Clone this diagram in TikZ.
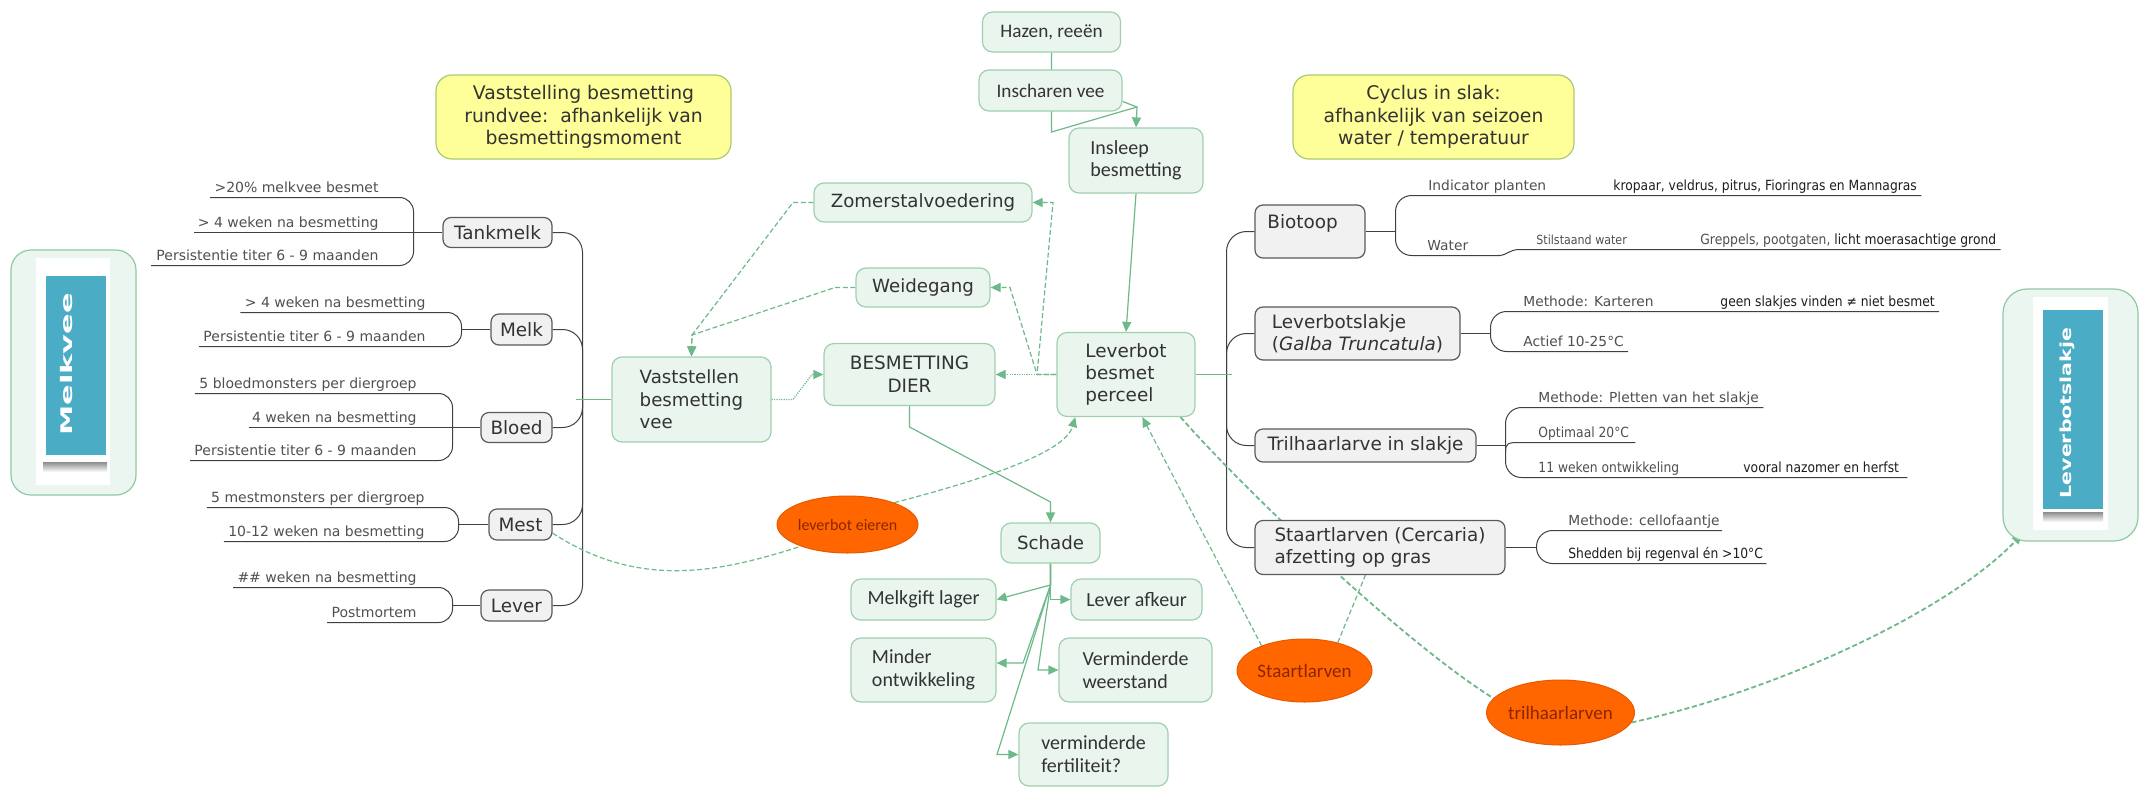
\documentclass[tikz,border=0pt]{standalone}
\usepackage{graphicx}
\usepackage{fontspec}
\setmainfont{DejaVu Sans}
\newfontfamily\carlitofont{Carlito}
\newfontfamily\nrwfont[FakeStretch=0.88]{DejaVu Sans}
\usetikzlibrary{arrows.meta,shapes.geometric,backgrounds,calc}
\definecolor{gfill}{HTML}{EAF5EE}
\definecolor{gborder}{HTML}{9ED0AE}
\definecolor{glinec}{HTML}{6DB98A}
\definecolor{grayfill}{HTML}{F1F1F1}
\definecolor{grayborder}{HTML}{5A5A5A}
\definecolor{dlinec}{HTML}{404040}
\definecolor{txt}{HTML}{333333}
\definecolor{leaftxt}{HTML}{505050}
\definecolor{leafdark}{HTML}{1E1E1E}
\definecolor{orng}{HTML}{FF6600}
\definecolor{orngdark}{HTML}{E55A00}
\definecolor{orngtxt}{HTML}{8B2500}
\definecolor{ylw}{HTML}{FFFF99}
\definecolor{ylwborder}{HTML}{A9CB72}
\definecolor{blu}{HTML}{4BACC6}
\definecolor{mvfill}{HTML}{ECF6F0}
\definecolor{mvborder}{HTML}{8FC9A3}
\tikzset{
  gbox/.style={draw=gborder, fill=gfill, line width=0.6pt, rounded corners=5pt, inner sep=0pt, text=txt, align=center},
  vfont/.style={font=\fontsize{9.1}{11.2}\selectfont},
  cfont/.style={font=\carlitofont\fontsize{10}{11.4}\selectfont},
  graybox/.style={draw=grayborder, fill=grayfill, line width=0.6pt, rounded corners=4pt, inner sep=0pt, text=txt, align=center, font=\fontsize{9.2}{11}\selectfont},
  ybox/.style={draw=ylwborder, fill=ylw, line width=0.6pt, rounded corners=8pt, inner sep=0pt, text=txt, align=center, font=\fontsize{9.4}{11.2}\selectfont},
  oval/.style={ellipse, draw=orngdark, fill=orng, line width=0.5pt, inner sep=0pt, text=orngtxt},
  leafL/.style={inner sep=0pt, text=leaftxt, font=\fontsize{7}{8}\selectfont, anchor=base east},
  leafR/.style={inner sep=0pt, text=leaftxt, font=\fontsize{6.9}{8}\selectfont, anchor=base west},
  leafN/.style={inner sep=0pt, text=leaftxt, font=\nrwfont\fontsize{7}{8}\selectfont, anchor=base west},
  leafD/.style={inner sep=0pt, text=leafdark, font=\nrwfont\fontsize{7}{8}\selectfont, anchor=base west},
  dl/.style={draw=dlinec, line width=0.5pt},
  gl/.style={draw=glinec, line width=0.6pt},
  gdash/.style={draw=glinec, line width=0.6pt, dash pattern=on 2.5pt off 1.3pt},
  gdot/.style={draw=glinec, line width=0.6pt, dash pattern=on 0.6pt off 0.6pt},
  gthick/.style={draw=glinec, line width=0.9pt, dash pattern=on 2.5pt off 1.4pt},
  tip/.style={-{Triangle[width=4.5pt,length=5pt]}},
}
\begin{document}
\begin{tikzpicture}[x=0.5pt, y=-0.5pt]
\useasboundingbox (0,0) rectangle (2150,787);

% ---------- Melkvee panel
\node[draw=mvborder, fill=mvfill, rounded corners=10pt, line width=0.6pt, minimum width=62.5pt, minimum height=122.5pt, inner sep=0pt] (mv) at (73.5,372.5) {};
\node[fill=white, minimum width=37pt, minimum height=113.5pt, inner sep=0pt] (mvcard) at (73,371.5) {};
\node[top color=black!45, bottom color=white, minimum width=32pt, minimum height=5pt, inner sep=0pt] (mvshadow) at (75,467) {};
\node[fill=blu, minimum width=30pt, minimum height=89.5pt, inner sep=0pt] (mvblue) at (76,365.5) {};
\node[rotate=90, text=white, inner sep=0pt] (mvtext) at (67,364.5) {\scalebox{1.9}[1]{\fontsize{8}{8}\selectfont\bfseries Melkvee}};

% ---------- Leverbotslakje panel
\node[draw=mvborder, fill=mvfill, rounded corners=12pt, line width=0.6pt, minimum width=67.5pt, minimum height=126pt, inner sep=0pt] (lvs) at (2070.5,415) {};
\node[fill=white, minimum width=37.5pt, minimum height=116.5pt, inner sep=0pt] (lvscard) at (2070.5,413.5) {};
\node[top color=black!45, bottom color=white, minimum width=30pt, minimum height=5pt, inner sep=0pt] (lvsshadow) at (2073,517) {};
\node[fill=blu, minimum width=30pt, minimum height=99.5pt, inner sep=0pt] (lvsblue) at (2073,409.5) {};
\node[rotate=90, text=white, inner sep=0pt] (lvstext) at (2067,413) {\scalebox{1.35}[1]{\fontsize{7.6}{8}\selectfont\bfseries Leverbotslakje}};
\coordinate (lvsin) at (2022,534);

% ---------- yellow notes
\node[ybox, minimum width=147.5pt, minimum height=42pt] (y1) at (583.5,117) {Vaststelling besmetting\\rundvee:\ \ afhankelijk van\\besmettingsmoment};
\node[ybox, minimum width=140.5pt, minimum height=42pt] (y2) at (1433.5,117) {Cyclus in slak:\\afhankelijk van seizoen\\water / temperatuur};

% ---------- green boxes
\node[gbox, vfont, minimum width=109pt, minimum height=19.5pt] (zomer) at (923,202.5) {Zomerstalvoedering};
\node[gbox, vfont, minimum width=67pt, minimum height=19.5pt] (weide) at (923,287.5) {Weidegang};
\node[gbox, font=\fontsize{9.2}{11.5}\selectfont, minimum width=85.5pt, minimum height=31pt] (besm) at (909.5,374.5) {BESMETTING\\DIER};
\node[gbox, font=\carlitofont\fontsize{9.6}{11}\selectfont, minimum width=69pt, minimum height=20pt] (hazen) at (1051.5,32) {Hazen, reeën};
\node[gbox, font=\carlitofont\fontsize{9.6}{11}\selectfont, minimum width=71.5pt, minimum height=20.5pt] (inscharen) at (1050.5,90.5) {Inscharen vee};
\node[gbox, font=\carlitofont\fontsize{10}{11}\selectfont, align=left, minimum width=67pt, minimum height=32.5pt] (insleep) at (1136,160.5) {Insleep\\besmetting};
\node[gbox, font=\fontsize{9.2}{11}\selectfont, align=left, minimum width=69pt, minimum height=42pt] (leverbot) at (1126,374.5) {Leverbot\\besmet\\perceel};
\node[gbox, font=\fontsize{9.1}{11.25}\selectfont, align=left, minimum width=79.5pt, minimum height=42.5pt] (vastst) at (691.5,399.5) {Vaststellen\\besmetting\\vee};
\node[gbox, vfont, minimum width=49.5pt, minimum height=20pt] (schade) at (1050.5,543) {Schade};
\node[gbox, cfont, minimum width=72.5pt, minimum height=20.5pt] (melkgift) at (923.5,599.5) {Melkgift lager};
\node[gbox, cfont, minimum width=65.5pt, minimum height=20.5pt] (leverafk) at (1136.5,599.5) {Lever afkeur};
\node[gbox, cfont, align=left, minimum width=72.5pt, minimum height=32pt] (minder) at (923.5,670) {Minder\\ontwikkeling};
\node[gbox, cfont, align=left, minimum width=76.5pt, minimum height=32pt] (weerstand) at (1135.5,670) {Verminderde\\weerstand};
\node[gbox, cfont, align=left, minimum width=74.5pt, minimum height=31.5pt] (fert) at (1093.5,754.5) {verminderde\\fertiliteit?};

% ---------- grey boxes left
\node[graybox, minimum width=54.5pt, minimum height=15pt] (tank) at (497.5,232.5) {Tankmelk};
\node[graybox, minimum width=30.5pt, minimum height=15.5pt] (melk) at (521.5,329.5) {Melk};
\node[graybox, minimum width=35.5pt, minimum height=15pt] (bloed) at (516.5,427.5) {Bloed};
\node[graybox, minimum width=31.5pt, minimum height=15.5pt] (mest) at (520.5,524.5) {Mest};
\node[graybox, minimum width=35.5pt, minimum height=15.5pt] (lever) at (516.5,605.5) {Lever};

% ---------- grey boxes right
\node[graybox, minimum width=55pt, minimum height=26.5pt] (biotoop) at (1310,231.5) {};
\node[inner sep=0pt, text=txt, font=\fontsize{9.2}{11}\selectfont, anchor=base west] (biotooptxt) at (1267,228) {Biotoop};
\node[graybox, align=left, minimum width=102.5pt, minimum height=26.5pt] (slakje) at (1357.5,333.5) {Leverbotslakje\\(\textit{Galba Truncatula})};
\node[graybox, minimum width=110.5pt, minimum height=16.5pt] (trilh) at (1365.5,445.5) {Trilhaarlarve in slakje};
\node[graybox, align=left, minimum width=125pt, minimum height=27pt] (staart) at (1380,547.5) {Staartlarven (Cercaria)\\afzetting op gras};

% ---------- orange ovals
\node[oval, minimum width=70.5pt, minimum height=28.5pt, font=\carlitofont\fontsize{8}{9}\selectfont] (eieren) at (847.5,524.5) {leverbot eieren};
\node[oval, minimum width=67.5pt, minimum height=31.5pt, font=\carlitofont\fontsize{9.5}{10}\selectfont] (staartl) at (1304.5,670.5) {Staartlarven};
\node[oval, minimum width=72.5pt, minimum height=32.5pt, font=\carlitofont\fontsize{9.5}{10}\selectfont] (trilhl) at (1560.5,712.5) {trilhaarlarven};

% ---------- left leaves
\node[leafL] (t1) at (379,192) {>20\% melkvee besmet};
\node[leafL] (t2) at (379,227) {> 4 weken na besmetting};
\node[leafL] (t3) at (379,260) {Persistentie titer 6 - 9 maanden};
\node[leafL] (m1) at (426,307) {> 4 weken na besmetting};
\node[leafL] (m2) at (426,341) {Persistentie titer 6 - 9 maanden};
\node[leafL] (b1) at (417,388) {5 bloedmonsters per diergroep};
\node[leafL] (b2) at (417,422) {4 weken na besmetting};
\node[leafL] (b3) at (417,455) {Persistentie titer 6 - 9 maanden};
\node[leafL] (s1) at (425,502) {5 mestmonsters per diergroep};
\node[leafL] (s2) at (425,536) {10-12 weken na besmetting};
\node[leafL] (v1) at (417,582) {\#\# weken na besmetting};
\node[leafL] (v2) at (417,617) {Postmortem};

% ---------- right leaves
\node[leafR] (r1) at (1428,190) {Indicator planten};
\node[leafD] (r2) at (1613,190) {kropaar, veldrus, pitrus, Fioringras en Mannagras};
\node[leafR] (r3) at (1427,250) {Water};
\node[leafN, font=\nrwfont\fontsize{6.3}{7}\selectfont] (r4) at (1536,244) {Stilstaand water};
\node[leafN] (r5) at (1700,244) {Greppels, pootgaten, \textcolor{leafdark}{licht moerasachtige grond}};
\node[leafR] (k1) at (1523,306) {Methode: Karteren};
\node[leafD] (k2) at (1720,306) {geen slakjes vinden ≠ niet besmet};
\node[leafR] (k3) at (1523,346) {Actief 10-25°C};
\node[leafR] (p1) at (1538,402) {Methode: Pletten van het slakje};
\node[leafN] (p2) at (1538,437) {Optimaal 20°C};
\node[leafN] (p3) at (1538,472) {11 weken ontwikkeling};
\node[leafD] (p4) at (1743,472) {vooral nazomer en herfst};
\node[leafR] (c1) at (1568,525) {Methode: cellofaantje};
\node[leafD] (c2) at (1568,558) {Shedden bij regenval én >10°C};

\coordinate (lj) at (576,399.5);
\coordinate (rj) at (1232,374.5);
\coordinate (jz) at (1037,374.5);
\coordinate (jh) at (1137,107);

\begin{scope}[on background layer]
\fill[white] (0,0) rectangle (2150,787);

% left brackets
\draw[dl, rounded corners=7pt] ($(t1.base west)+(-4,5.5)$) -- (413.5,197.5) -- (413.5,265.5) -- ($(t3.base west)+(-5,5.5)$);
\draw[dl] ($(t2.base west)+(-3,5.5)$) -- (tank.west);
\draw[dl, rounded corners=7pt] ($(m1.base west)+(-4,5.5)$) -- (461.5,312.5) -- (461.5,346.5) -- ($(m2.base west)+(-4,5.5)$);
\draw[dl] (461.5,329.5) -- (melk.west);
\draw[dl, rounded corners=7pt] ($(b1.base west)+(-4,5.5)$) -- (452.5,393.5) -- (452.5,460.5) -- ($(b3.base west)+(-4,5.5)$);
\draw[dl] ($(b2.base west)+(-3,5.5)$) -- (bloed.west);
\draw[dl, rounded corners=7pt] ($(s1.base west)+(-4,5.5)$) -- (458.5,507.5) -- (458.5,541.5) -- ($(s2.base west)+(-4,5.5)$);
\draw[dl] (458.5,524.5) -- (mest.west);
\draw[dl, rounded corners=7pt] ($(v1.base west)+(-4,5.5)$) -- (452.5,587.5) -- (452.5,622.5) -- ($(v2.base west)+(-4,5.5)$);
\draw[dl] (452.5,605.5) -- (lever.west);

\draw[dl, rounded corners=10pt] (tank.east) -- (582.5,232.5) -- (582.5,399.5);
\draw[dl, rounded corners=10pt] (melk.east) -- (582.5,329.5) -- (582.5,399.5);
\draw[dl, rounded corners=10pt] (bloed.east) -- (582.5,427.5) -- (582.5,399.5);
\draw[dl, rounded corners=10pt] (mest.east) -- (582.5,524.5) -- (582.5,399.5);
\draw[dl, rounded corners=10pt] (lever.east) -- (582.5,605.5) -- (582.5,399.5);
\draw[gl] (lj) -- (vastst.west);

% right brackets
\draw[dl, rounded corners=10pt] (biotoop.west) -- (1226.5,231.5) -- (1226.5,374.5);
\draw[dl, rounded corners=10pt] (slakje.west) -- (1226.5,333.5) -- (1226.5,374.5);
\draw[dl, rounded corners=10pt] (trilh.west) -- (1226.5,445.5) -- (1226.5,374.5);
\draw[dl, rounded corners=10pt] (staart.west) -- (1226.5,547.5) -- (1226.5,374.5);
\draw[gl] (leverbot.east) -- (rj);

\draw[dl, rounded corners=8pt] ($(r2.base east)+(4,5.5)$) -- (1395.5,195.5) -- (1395.5,255.5) -- (1500,255.5);
\draw[dl] (1498,255.5) .. controls (1508,255.5) and (1508,249.5) .. (1520,249.5) -- ($(r5.base east)+(4,5.5)$);
\draw[dl] (biotoop.east) -- (1395.5,231.5);
\draw[dl, rounded corners=8pt] ($(k2.base east)+(4,5.5)$) -- (1490.5,311.5) -- (1490.5,351.5) -- ($(k3.base east)+(4,5.5)$);
\draw[dl] (slakje.east) -- (1490.5,333.5);
\draw[dl, rounded corners=8pt] ($(p1.base east)+(4,5.5)$) -- (1505.5,407.5) -- (1505.5,477.5) -- ($(p4.base east)+(8,5.5)$);
\draw[dl] (trilh.east) -- (1505.5,445.5);
\draw[dl] (1505.5,452) .. controls (1505.5,443) and (1508,442.5) .. (1520,442.5) -- ($(p2.base east)+(6,5.5)$);
\draw[dl, rounded corners=8pt] ($(c1.base east)+(2,5.5)$) -- (1536.5,530.5) -- (1536.5,563.5) -- ($(c2.base east)+(3,5.5)$);
\draw[dl] (staart.east) -- (1536.5,547.5);

% green connectors top
\draw[gl, tip] (hazen.south) -- (1051.5,132) -- (jh) -- (insleep.north);
\draw[gl] ($(inscharen.east)+(0,11)$) -- (jh);
\draw[gl, tip] (insleep.south) -- (leverbot.north);
\draw[gdot, tip] (leverbot.west) -- (besm.east);
\draw[gdash, tip] (leverbot.west) -- (jz) -- (1053,202.5) -- (zomer.east);
\draw[gdash, tip] (leverbot.west) -- (jz) -- (1010,287.5) -- (weide.east);
\draw[gdash, tip] (zomer.west) -- (793,202.5) -- (692,335) -- (vastst.north);
\draw[gdash, tip] (weide.west) -- (835,287.5) -- (692,335) -- (vastst.north);
\draw[gdot, tip] (vastst.east) -- (793,399.5) -- (812,374.5) -- (besm.west);

% schade
\draw[gl, tip] (besm.south) -- (909.5,427) -- (1050.5,502) -- (schade.north);
\draw[gl, tip] (schade.south) -- (1050.5,585) -- (melkgift.east);
\draw[gl, tip] (schade.south) -- (1050.5,599.5) -- (leverafk.west);
\draw[gl, tip] (schade.south) -- (1050.5,585) -- (1023,663) -- ($(minder.east)+(0,-7)$);
\draw[gl, tip] (schade.south) -- (1050.5,585) -- (1038,670) -- (weerstand.west);
\draw[gl, tip] (schade.south) -- (1050.5,585) -- (997,754.5) -- (fert.west);

% ovals
\draw[gdash] (mest.-15) .. controls (640,590) and (720,572) .. (eieren.205);
\draw[gdash, tip] (eieren.25) .. controls (1000,475) and (1066,450) .. (leverbot.-140);
\draw[gdash, tip] (staartl.150) -- (leverbot.-69);
\draw[gdash] (staartl.40) -- ($(staart.south west)+(111,0)$);
\draw[gthick] (leverbot.-38) .. controls (1240,485) and (1400,640) .. (trilhl.168);
\draw[gthick, tip] (trilhl.-8) .. controls (1780,690) and (1950,610) .. (lvsin);
\end{scope}
\end{tikzpicture}
\end{document}
